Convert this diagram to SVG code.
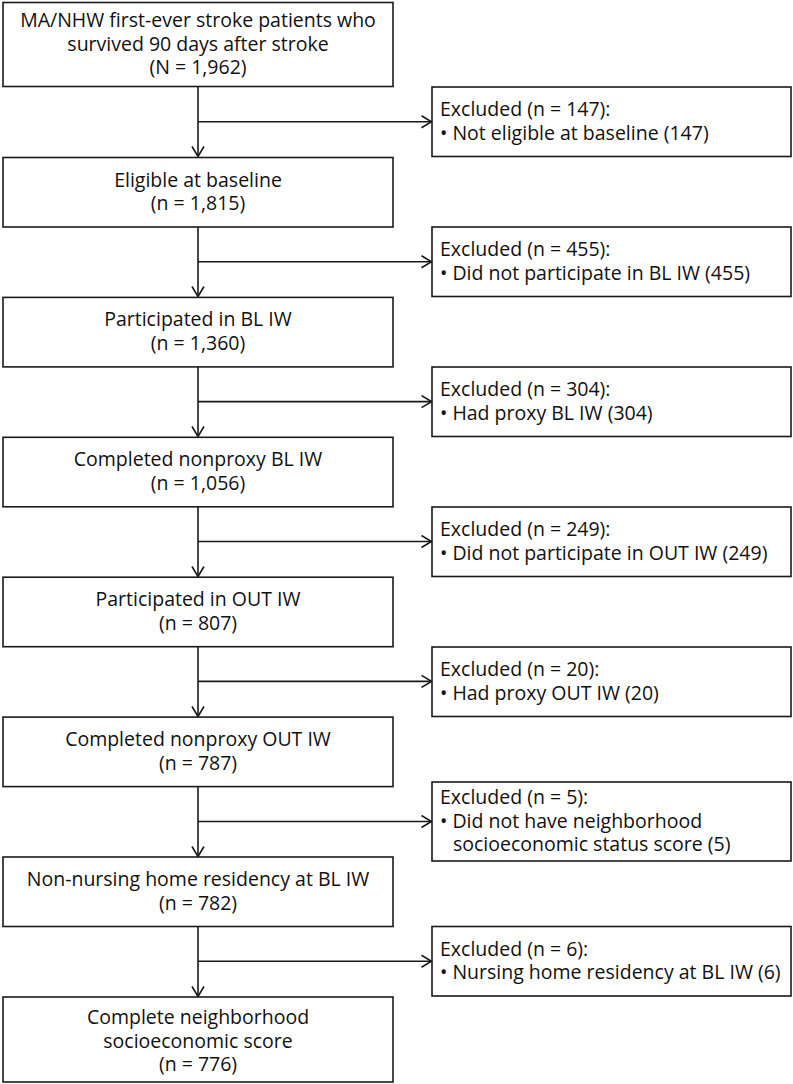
<svg xmlns="http://www.w3.org/2000/svg" width="793" height="1084" viewBox="0 0 793 1084">
<style>
.box{fill:#fff;stroke:#1a1a1a;stroke-width:1.6}
.t{font-family:"Open Sans","Noto Sans","DejaVu Sans",sans-serif;font-size:19.5px;fill:#111}
.c{text-anchor:middle}
.ln{fill:none;stroke:#1a1a1a;stroke-width:1.6}
</style>
<defs>
<marker id="ah" viewBox="0 0 12 14" refX="11" refY="7" markerWidth="12" markerHeight="14" markerUnits="userSpaceOnUse" orient="auto">
<path d="M1,1 L11,7 L1,13" fill="none" stroke="#1a1a1a" stroke-width="1.6"/>
</marker>
</defs>
<rect width="793" height="1084" fill="#fff"/>
<g id="connectors">
<line class="ln" x1="198" y1="86.5" x2="198" y2="156.5" marker-end="url(#ah)"/>
<line class="ln" x1="198" y1="121.75" x2="431.5" y2="121.75" marker-end="url(#ah)"/>
<line class="ln" x1="198" y1="227" x2="198" y2="296.5" marker-end="url(#ah)"/>
<line class="ln" x1="198" y1="261.75" x2="431.5" y2="261.75" marker-end="url(#ah)"/>
<line class="ln" x1="198" y1="367" x2="198" y2="436.5" marker-end="url(#ah)"/>
<line class="ln" x1="198" y1="401.6" x2="431.5" y2="401.6" marker-end="url(#ah)"/>
<line class="ln" x1="198" y1="507" x2="198" y2="576.5" marker-end="url(#ah)"/>
<line class="ln" x1="198" y1="541.5" x2="431.5" y2="541.5" marker-end="url(#ah)"/>
<line class="ln" x1="198" y1="647" x2="198" y2="716.5" marker-end="url(#ah)"/>
<line class="ln" x1="198" y1="681.4" x2="431.5" y2="681.4" marker-end="url(#ah)"/>
<line class="ln" x1="198" y1="786.5" x2="198" y2="856.5" marker-end="url(#ah)"/>
<line class="ln" x1="198" y1="821.5" x2="431.5" y2="821.5" marker-end="url(#ah)"/>
<line class="ln" x1="198" y1="926.5" x2="198" y2="996.5" marker-end="url(#ah)"/>
<line class="ln" x1="198" y1="961.2" x2="431.5" y2="961.2" marker-end="url(#ah)"/>
</g>
<g id="n1"><rect class="box" x="3" y="2.5" width="390" height="84"/>
<text class="t c"><tspan x="198" y="27">MA/NHW first-ever stroke patients who</tspan><tspan x="198" y="50.5">survived 90 days after stroke</tspan><tspan x="198" y="74">(N = 1,962)</tspan></text></g>
<g id="x1"><rect class="box" x="432" y="87" width="359" height="69.5"/>
<text class="t"><tspan x="440" y="116">Excluded (n = 147):</tspan><tspan x="440" y="139.5">• Not eligible at baseline (147)</tspan></text></g>
<g id="n2"><rect class="box" x="3" y="157.5" width="390" height="69.5"/>
<text class="t c"><tspan x="198" y="186.5">Eligible at baseline</tspan><tspan x="198" y="210">(n = 1,815)</tspan></text></g>
<g id="x2"><rect class="box" x="432" y="227" width="359" height="69.5"/>
<text class="t"><tspan x="440" y="256">Excluded (n = 455):</tspan><tspan x="440" y="279.5">• Did not participate in BL IW (455)</tspan></text></g>
<g id="n3"><rect class="box" x="3" y="297.4" width="390" height="69.5"/>
<text class="t c"><tspan x="198" y="326.4">Participated in BL IW</tspan><tspan x="198" y="349.9">(n = 1,360)</tspan></text></g>
<g id="x3"><rect class="box" x="432" y="367" width="359" height="69.5"/>
<text class="t"><tspan x="440" y="396">Excluded (n = 304):</tspan><tspan x="440" y="419.5">• Had proxy BL IW (304)</tspan></text></g>
<g id="n4"><rect class="box" x="3" y="437.3" width="390" height="69.5"/>
<text class="t c"><tspan x="198" y="466.3">Completed nonproxy BL IW</tspan><tspan x="198" y="489.8">(n = 1,056)</tspan></text></g>
<g id="x4"><rect class="box" x="432" y="507" width="359" height="69.5"/>
<text class="t"><tspan x="440" y="536">Excluded (n = 249):</tspan><tspan x="440" y="559.5">• Did not participate in OUT IW (249)</tspan></text></g>
<g id="n5"><rect class="box" x="3" y="577.2" width="390" height="69.5"/>
<text class="t c"><tspan x="198" y="606.2">Participated in OUT IW</tspan><tspan x="198" y="629.7">(n = 807)</tspan></text></g>
<g id="x5"><rect class="box" x="432" y="647" width="359" height="69.5"/>
<text class="t"><tspan x="440" y="676">Excluded (n = 20):</tspan><tspan x="440" y="699.5">• Had proxy OUT IW (20)</tspan></text></g>
<g id="n6"><rect class="box" x="3" y="717.1" width="390" height="69.5"/>
<text class="t c"><tspan x="198" y="746.1">Completed nonproxy OUT IW</tspan><tspan x="198" y="769.6">(n = 787)</tspan></text></g>
<g id="x6"><rect class="box" x="432" y="782" width="359" height="79"/>
<text class="t"><tspan x="440" y="804">Excluded (n = 5):</tspan><tspan x="440" y="827.5">• Did not have neighborhood</tspan><tspan x="453" y="851">socioeconomic status score (5)</tspan></text></g>
<g id="n7"><rect class="box" x="3" y="857" width="390" height="69.5"/>
<text class="t c"><tspan x="198" y="886">Non-nursing home residency at BL IW</tspan><tspan x="198" y="909.5">(n = 782)</tspan></text></g>
<g id="x7"><rect class="box" x="432" y="926.5" width="359" height="69.5"/>
<text class="t"><tspan x="440" y="955.5">Excluded (n = 6):</tspan><tspan x="440" y="979">• Nursing home residency at BL IW (6)</tspan></text></g>
<g id="n8"><rect class="box" x="3" y="997" width="390" height="85"/>
<text class="t c"><tspan x="198" y="1024">Complete neighborhood</tspan><tspan x="198" y="1047.5">socioeconomic score</tspan><tspan x="198" y="1071">(n = 776)</tspan></text></g>
</svg>
